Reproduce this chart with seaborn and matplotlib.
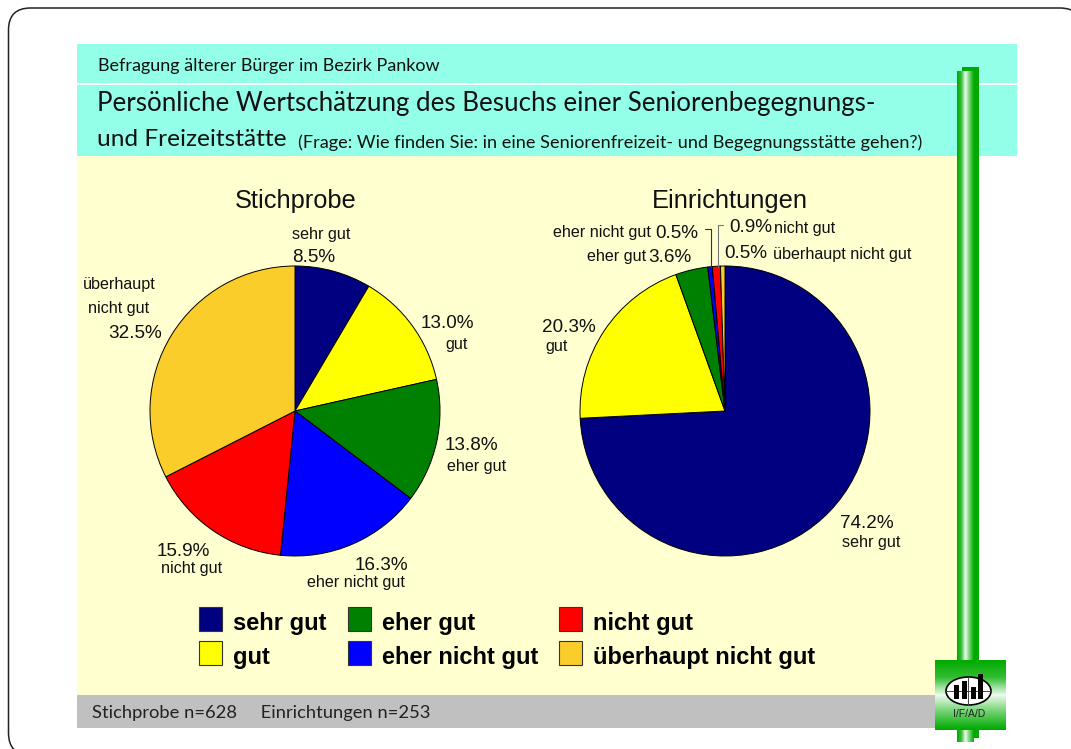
import numpy as np
import matplotlib
matplotlib.use("Agg")
import matplotlib.pyplot as plt
from matplotlib.colors import LinearSegmentedColormap
from matplotlib.legend_handler import HandlerPatch
from matplotlib.patches import FancyBboxPatch, Rectangle, Ellipse, Patch
import seaborn as sns

sns.set_theme(style="white")
plt.rcParams['font.family'] = ['Liberation Sans', 'DejaVu Sans']

# Data
categories = ['sehr gut', 'gut', 'eher gut', 'eher nicht gut', 'nicht gut', 'überhaupt nicht gut']
stichprobe = [8.5, 13.0, 13.8, 16.3, 15.9, 32.5]
einrichtungen = [74.2, 20.3, 3.6, 0.5, 0.9, 0.5]
palette = sns.color_palette(['#000080', '#FFFF00', '#008000', '#0000FF', '#FF0000', '#FBCD2B'])

HEAD = 'Lato'
W, H = 1071, 749

fig = plt.figure(figsize=(W / 100, H / 100), dpi=100, facecolor='white')

# background layer in pixel coordinates
bg = fig.add_axes([0, 0, 1, 1])
bg.axis('off')

def box(x0, y0, x1, y1, color):
    bg.add_patch(Rectangle((x0, y0), x1 - x0, y1 - y0, fc=color, ec='none', zorder=1))

def gradient(x0, y0, x1, y1, vertical=False):
    cmap = LinearSegmentedColormap.from_list('g', [(0, '#00AA00'), (0.25, '#35BE35'), (0.5, '#F0FBF0'),
                                                   (0.72, '#7AD67A'), (1, '#00AA00')])
    ramp = np.linspace(0, 1, 64)
    ramp = ramp[:, None] if vertical else ramp[None, :]
    bg.imshow(ramp, cmap=cmap, extent=(x0, x1, y1, y0), aspect='auto', zorder=3)

# rounded frame runs off the page on the right and bottom
bg.add_patch(FancyBboxPatch((8.5, 8), 1073.5, 747, boxstyle='round,pad=0,rounding_size=22',
                            fc='white', ec='#222222', lw=1.1, zorder=0))

box(77, 44, 1017, 83, '#93FFE8')
box(77, 85, 1017, 156, '#93FFE8')
box(77, 156, 958, 695, '#FFFFD0')
box(77, 695, 936, 728, '#C0C0C0')

# green column and logo
box(962, 67, 979, 738, '#00AA00')
gradient(957, 71, 974, 742)
box(935, 660, 1006, 730, '#00AA00')
gradient(935, 660, 1006, 730, vertical=True)
bg.add_patch(Ellipse((968.5, 691), 45, 28, fc='white', ec='black', lw=1.2, zorder=4))
bg.plot([946, 991], [691, 691], color='#444444', lw=0.7, zorder=5)
bg.plot([968, 968], [677, 705], color='#444444', lw=0.7, zorder=5)
for x0, top_y in [(954, 685), (962.3, 681), (970.7, 687), (978, 674)]:
    bg.add_patch(Rectangle((x0, top_y), 5, 699 - top_y, fc='black', ec='none', zorder=6))
bg.text(969, 714, 'I/F/A/D', fontsize=7.5, color='#222222', ha='center', va='center', zorder=6)

bg.set_xlim(0, W)
bg.set_ylim(H, 0)

# header texts
bg.text(98, 66, 'Befragung älterer Bürger im Bezirk Pankow', family=HEAD, fontsize=13,
        color='#111111', va='center', zorder=5)
bg.text(97, 103, 'Persönliche Wertschätzung des Besuchs einer Seniorenbegegnungs-', family=HEAD,
        fontsize=18.6, color='#111111', va='center', zorder=5)
bg.text(97, 140, 'und Freizeitstätte', family=HEAD, fontsize=17.6, color='#111111', va='center', zorder=5)
bg.text(298, 143, '(Frage: Wie finden Sie: in eine Seniorenfreizeit- und Begegnungsstätte gehen?)',
        family=HEAD, fontsize=13.1, color='#111111', va='center', zorder=5)
bg.text(92, 713, 'Stichprobe n=628     Einrichtungen n=253', family=HEAD, fontsize=13.2,
        color='#222222', va='center', zorder=5)

# pies
def draw_pie(values, cx, cy, r):
    ax = fig.add_axes([(cx - r) / W, 1 - (cy + r) / H, 2 * r / W, 2 * r / H])
    ax.pie(values, colors=palette, startangle=90, counterclock=False, radius=1,
           wedgeprops=dict(edgecolor='black', linewidth=0.7, clip_on=False))
    ax.set_xlim(-1, 1)
    ax.set_ylim(-1, 1)
    ax.patch.set_alpha(0)

draw_pie(stichprobe, 295, 411, 145)
draw_pie(einrichtungen, 725, 411, 145)

# titles and labels on top of everything
top = fig.add_axes([0, 0, 1, 1])
top.axis('off')
top.set_xlim(0, W)
top.set_ylim(H, 0)

top.text(296, 201, 'Stichprobe', fontsize=18.3, color='#111111', ha='center', va='center')
top.text(730, 201, 'Einrichtungen', fontsize=18.3, color='#111111', ha='center', va='center')

def pct(v):
    return f'{v:.1f}%'

def small(x, y, s):
    top.text(x, y + 1, s, fontsize=11.6, color='#111111', ha='center', va='center')

def big(x, y, v):
    top.text(x, y + 2, pct(v), fontsize=13.6, color='#111111', ha='center', va='center')

# Stichprobe labels
small(321, 233, 'sehr gut')
big(314, 255, stichprobe[0])
big(447, 321, stichprobe[1])
small(457, 343, 'gut')
big(471, 444, stichprobe[2])
small(477, 466, 'eher gut')
big(381, 563, stichprobe[3])
small(356, 582, 'eher nicht gut')
big(183, 549, stichprobe[4])
small(192, 567, 'nicht gut')
small(119, 284, 'überhaupt')
small(119, 307, 'nicht gut')
big(135, 331, stichprobe[5])

# Einrichtungen labels
big(867, 521, einrichtungen[0])
small(871, 542, 'sehr gut')
big(569, 325, einrichtungen[1])
small(557, 346, 'gut')
small(617, 256, 'eher gut')
big(670, 255, einrichtungen[2])
small(602, 231, 'eher nicht gut')
big(677, 231, einrichtungen[3])
big(751, 226, einrichtungen[4])
small(805, 228, 'nicht gut')
big(746, 251, einrichtungen[5])
small(842, 253, 'überhaupt nicht gut')

# leader lines
top.plot([705, 711, 711], [229, 229, 267], color='#333333', lw=0.8)
top.plot([723, 718, 718], [225, 225, 267], color='#777777', lw=0.8)

# legend, square swatches sit on the text baseline
def swatch(legend, orig_handle, xdescent, ydescent, width, height, fontsize):
    return Rectangle((0, -1), 16.6, 17.3)

handles = [Patch(facecolor=c, edgecolor='#333333', linewidth=0.8) for c in palette]
top.legend(handles, categories, ncol=3, loc='upper left', bbox_to_anchor=(199 / W, 1 - 612 / H),
           bbox_transform=fig.transFigure, frameon=False, borderpad=0, borderaxespad=0,
           handlelength=0.97, handleheight=0.7, handletextpad=0.47, columnspacing=0.89,
           labelspacing=0.45, labelcolor='black',
           handler_map={Patch: HandlerPatch(patch_func=swatch)},
           prop=dict(family='Liberation Sans', weight='bold', size=17))

fig.savefig('out.png', dpi=100, facecolor='white')
